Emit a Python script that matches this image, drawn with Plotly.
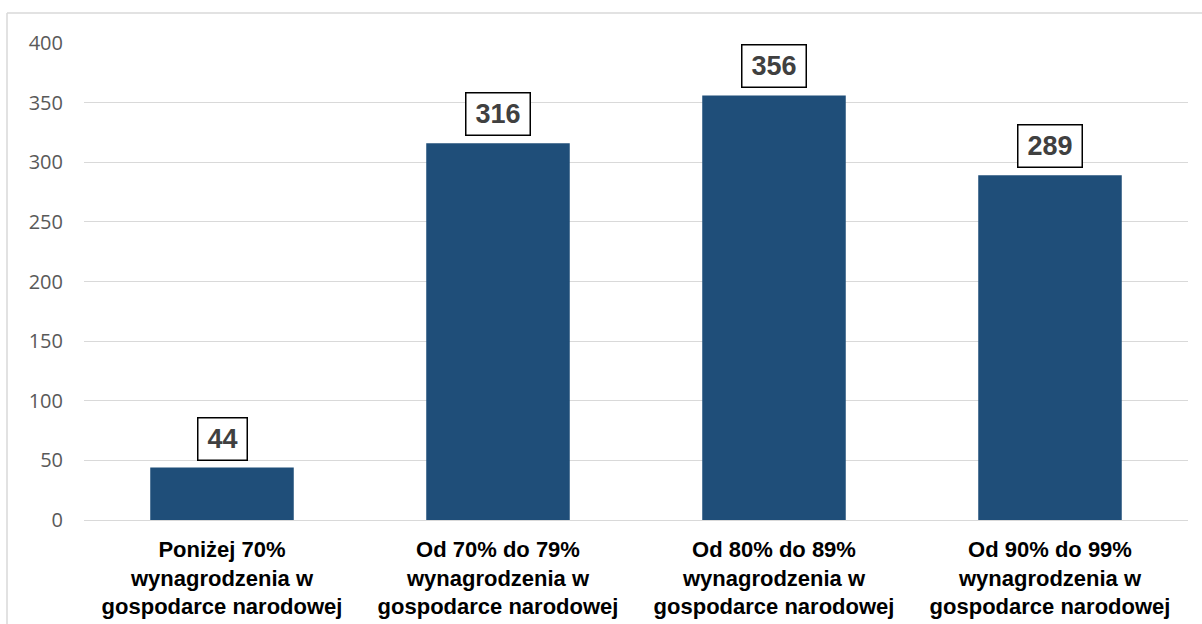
import plotly.graph_objects as go

# Chart data
categories = [
    "Poniżej 70%<br>wynagrodzenia w<br>gospodarce narodowej",
    "Od 70% do 79%<br>wynagrodzenia w<br>gospodarce narodowej",
    "Od 80% do 89%<br>wynagrodzenia w<br>gospodarce narodowej",
    "Od 90% do 99%<br>wynagrodzenia w<br>gospodarce narodowej",
]
values = [44, 316, 356, 289]
y_ticks = [0, 50, 100, 150, 200, 250, 300, 350, 400]

W, H = 1202, 624
ML, MR, MT, MB = 84, 14, 43, 104
BAR_COLOR = "#1F4E79"
GRID_COLOR = "#D9D9D9"

fig = go.Figure(
    go.Bar(
        x=categories,
        y=values,
        marker=dict(color=BAR_COLOR, line=dict(width=0)),
        width=0.52,
        hoverinfo="skip",
    )
)

# Boxed value labels above each bar
for cat, val in zip(categories, values):
    n = len(str(val))
    fig.add_annotation(
        x=cat, y=val, xref="x", yref="y",
        text=f"<b>{val}</b>",
        showarrow=False,
        yanchor="bottom",
        yshift=7,
        font=dict(family="Liberation Sans, Arial", size=27, color="#404040"),
        bgcolor="white",
        bordercolor="black",
        borderwidth=1.5,
        borderpad=4,
        width=15 * n + 10,
        height=33,
    )

# Outer frame: left and top edges only
pw = W - ML - MR
ph = H - MT - MB
def px_x(p):
    return (p - ML) / pw
def px_y(p):
    return (H - MB - p) / ph

fig.add_shape(type="line", xref="paper", yref="paper",
              x0=px_x(7), y0=px_y(13), x1=px_x(W + 5), y1=px_y(13),
              line=dict(color=GRID_COLOR, width=1.5))
fig.add_shape(type="line", xref="paper", yref="paper",
              x0=px_x(7), y0=px_y(13), x1=px_x(7), y1=px_y(H + 5),
              line=dict(color=GRID_COLOR, width=1.5))

fig.update_layout(
    width=W, height=H,
    margin=dict(l=ML, r=MR, t=MT, b=MB, pad=0, autoexpand=False),
    paper_bgcolor="white",
    plot_bgcolor="white",
    showlegend=False,
    bargap=0.48,
)
fig.update_xaxes(
    automargin=False,
    showgrid=False,
    showline=False,
    ticks="",
    tickfont=dict(family="Liberation Sans, Arial", size=22, color="black"),
    tickprefix="<b>", ticksuffix="</b>",
    ticklabelstandoff=14,
    tickangle=0,
)
fig.update_yaxes(
    automargin=False,
    range=[0, 400],
    tickvals=y_ticks,
    showgrid=True,
    gridcolor=GRID_COLOR,
    gridwidth=1,
    zeroline=True,
    zerolinecolor=GRID_COLOR,
    zerolinewidth=1,
    showline=False,
    ticks="",
    ticklabelstandoff=20,
    tickfont=dict(family="Open Sans", size=20, color="#595959"),
)

fig.write_html("out.html")
